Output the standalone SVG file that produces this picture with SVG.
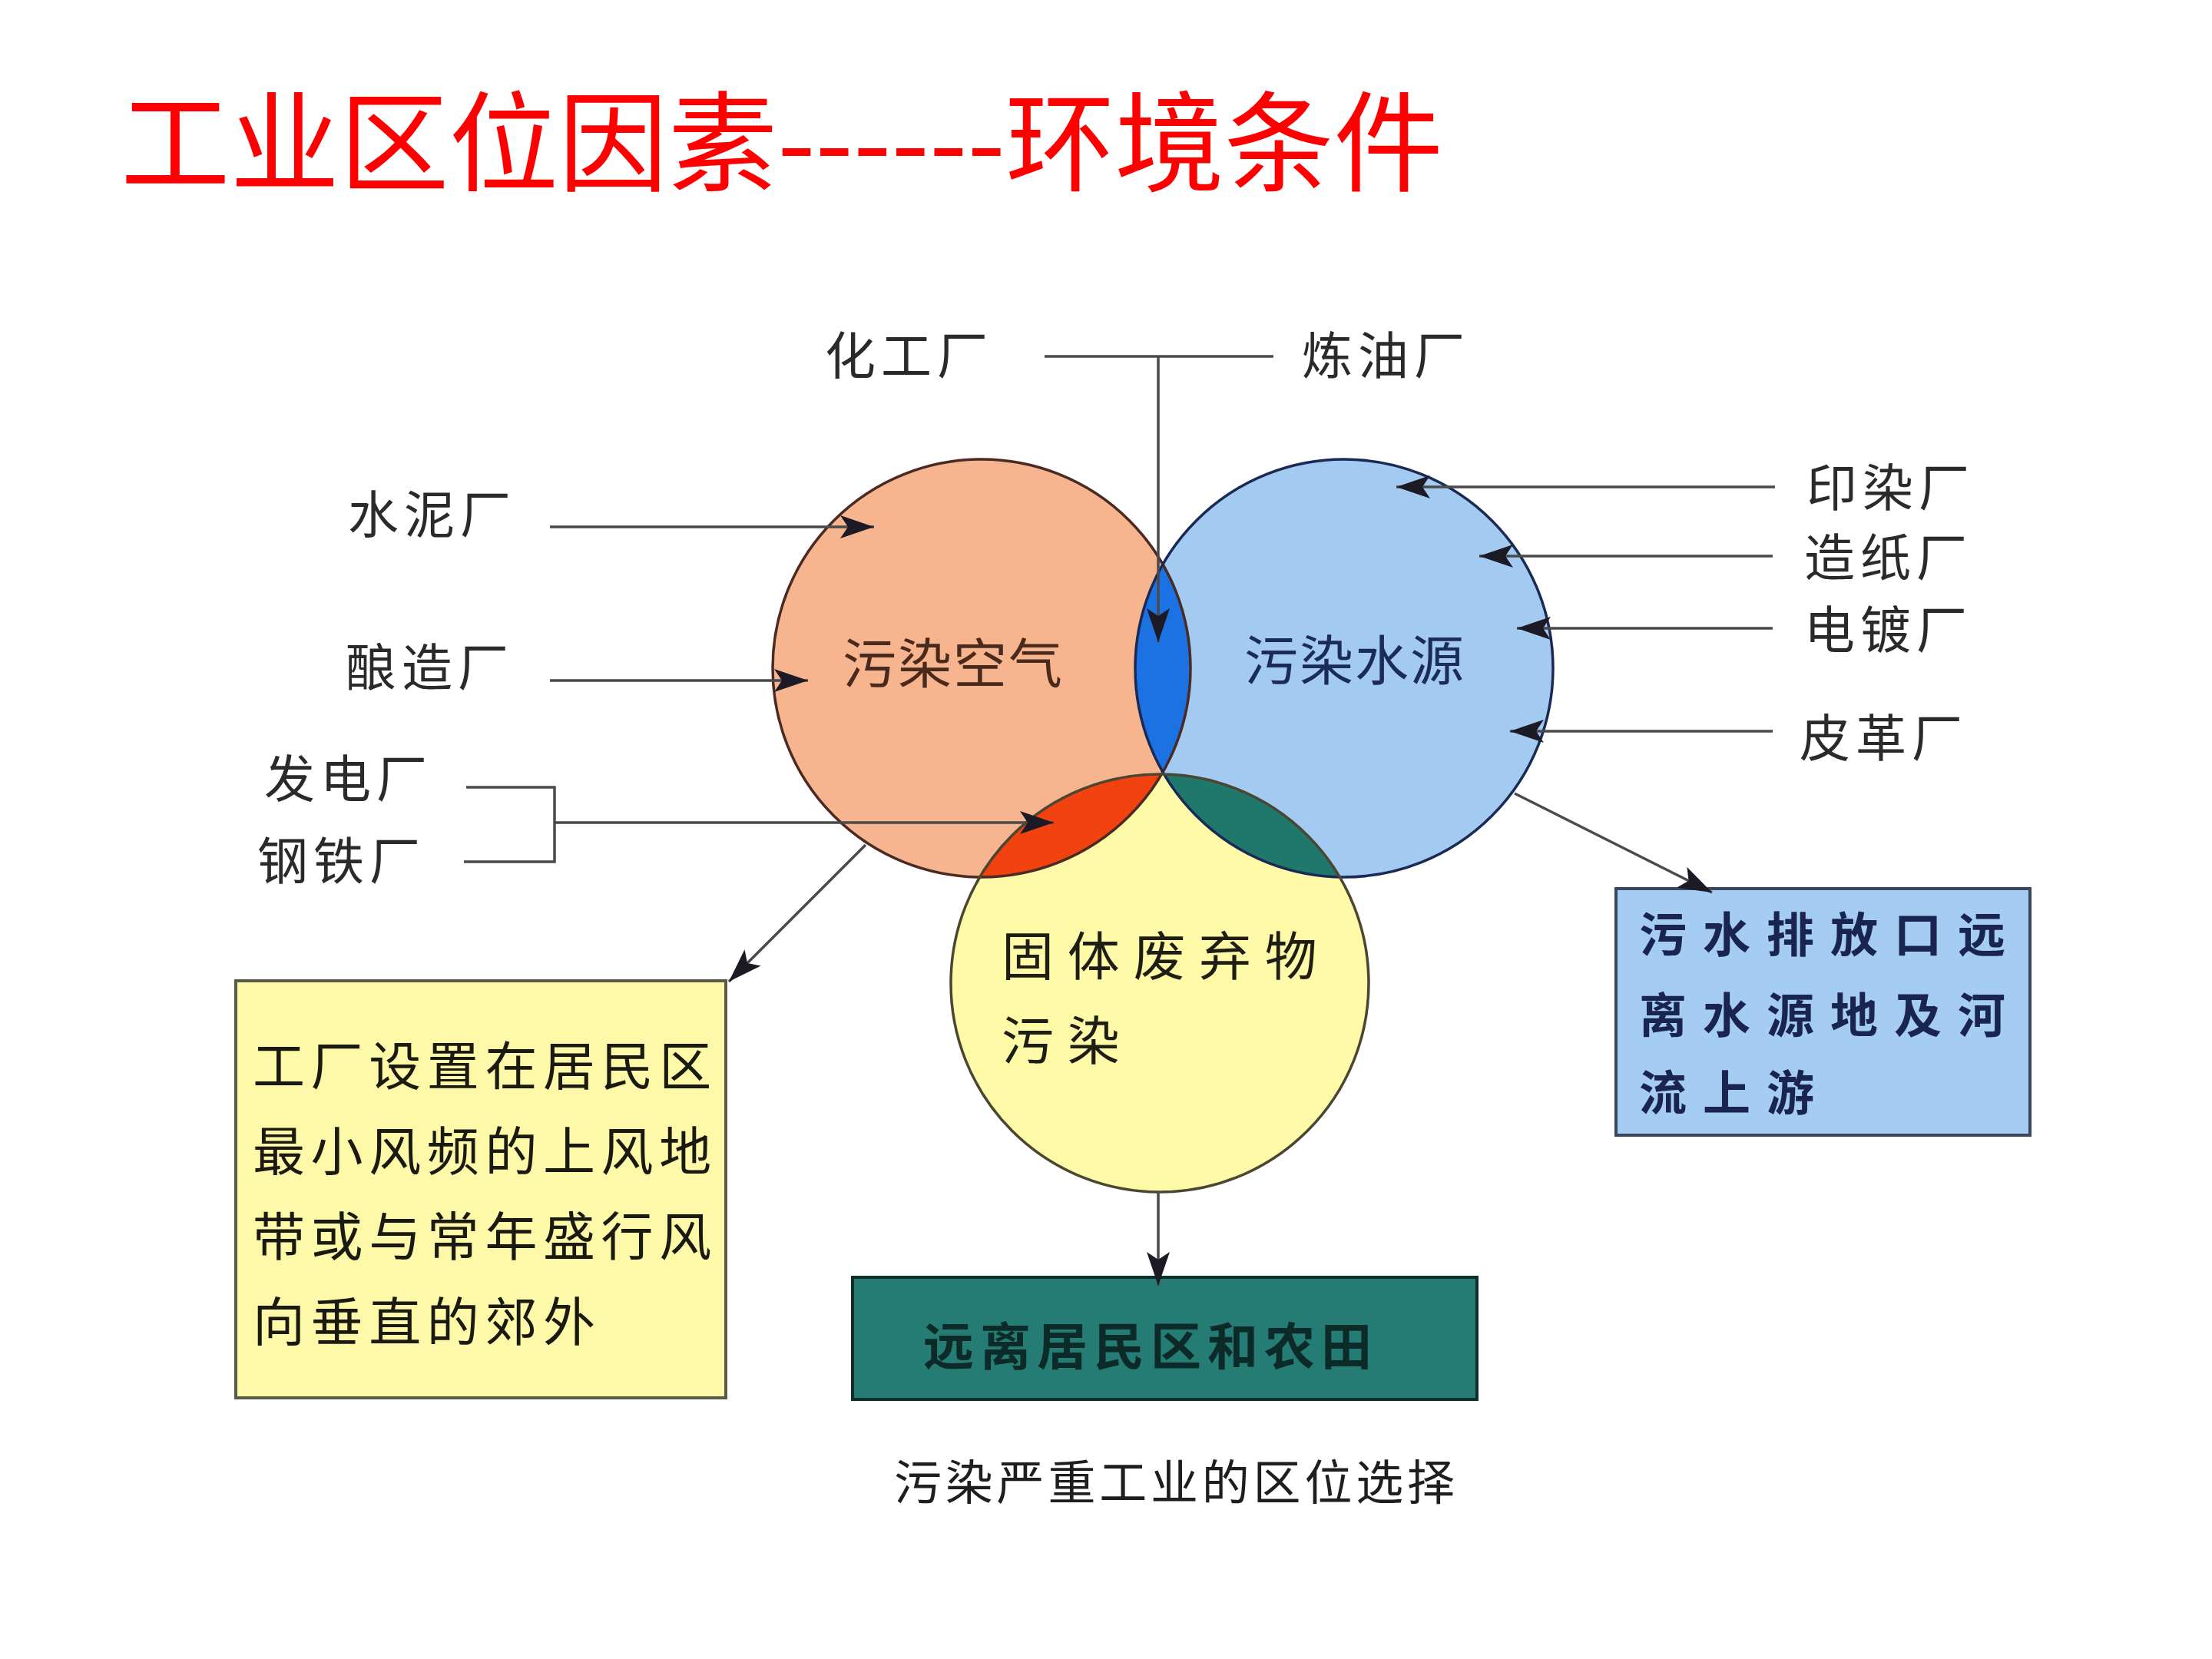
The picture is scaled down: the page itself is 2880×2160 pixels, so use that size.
<svg xmlns="http://www.w3.org/2000/svg" width="2880" height="2160" viewBox="0 0 2880 2160">
<style>
text{font-family:"Noto Sans CJK SC","Noto Sans CJK JP",sans-serif}
.title{font-size:142px;fill:#ff0000}
.lbl{font-size:66px;fill:#2a2a2a;letter-spacing:7px}
.circ{font-size:70px;letter-spacing:2px}
.conn{fill:none;stroke:#4a4a4a;stroke-width:3.5}
.box{stroke-width:4}
.ytxt{font-size:68px;letter-spacing:7.6px;fill:#1a1a10}
.btxt{font-size:62px;letter-spacing:21px;font-weight:bold;fill:#1a2450}
</style>
<defs>
<marker id="arr" markerUnits="userSpaceOnUse" markerWidth="46" markerHeight="32" refX="44" refY="15" orient="auto" viewBox="0 0 46 32">
<path d="M0,0 L44,15 L0,30 L10,15 z" fill="#1c1a24"/>
</marker>
<clipPath id="clipO"><circle cx="1278" cy="870" r="272"/></clipPath>
<clipPath id="clipB"><circle cx="1750" cy="870" r="272"/></clipPath>
</defs>
<rect width="2880" height="2160" fill="#ffffff"/>
<text class="title" x="157" y="238" textLength="1722" lengthAdjust="spacingAndGlyphs">工业区位因素------环境条件</text>

<g id="venn-fills">
<circle id="air" cx="1278" cy="870" r="272" fill="#f6b58e"/>
<circle id="water" cx="1750" cy="870" r="272" fill="#a3cbf2"/>
<circle id="solid" cx="1510" cy="1280" r="272" fill="#fffaa8"/>
</g>
<g id="overlaps">
<circle cx="1750" cy="870" r="272" fill="#1c72e2" clip-path="url(#clipO)"/>
<circle cx="1510" cy="1280" r="272" fill="#f2420f" clip-path="url(#clipO)"/>
<circle cx="1510" cy="1280" r="272" fill="#20776b" clip-path="url(#clipB)"/>
</g>
<g id="venn-outlines" fill="none" stroke-width="3.5">
<circle cx="1278" cy="870" r="272" stroke="#4a2a22"/>
<circle cx="1750" cy="870" r="272" stroke="#1b2a55"/>
<circle cx="1510" cy="1280" r="272" stroke="#4a4632"/>
</g>
<g id="node-air"><text class="circ" x="1097" y="890" fill="#4a2a1c">污染空气</text></g>
<g id="node-water"><text class="circ" x="1620" y="886" fill="#1b2b5b">污染水源</text></g>
<g id="node-solid">
<text x="1304" y="1270" font-size="68" letter-spacing="17.7" fill="#1e1e14">固体废弃物</text>
<text x="1304" y="1380" font-size="68" letter-spacing="17.7" fill="#1e1e14">污染</text>
</g>

<g id="labels">
<text id="n-huagong" class="lbl" x="1074" y="487">化工厂</text>
<text id="n-lianyou" class="lbl" x="1695" y="487">炼油厂</text>
<text id="n-shuini" class="lbl" x="453" y="694">水泥厂</text>
<text id="n-niangzao" class="lbl" x="450" y="893">酿造厂</text>
<text id="n-fadian" class="lbl" x="344" y="1038">发电厂</text>
<text id="n-gangtie" class="lbl" x="335" y="1145">钢铁厂</text>
<text id="n-yinran" class="lbl" x="2352" y="659">印染厂</text>
<text id="n-zaozhi" class="lbl" x="2349" y="750">造纸厂</text>
<text id="n-diandu" class="lbl" x="2349" y="844">电镀厂</text>
<text id="n-pige" class="lbl" x="2343" y="985">皮革厂</text>
</g>

<g id="node-yellowbox">
<rect class="box" x="307" y="1277" width="638" height="543" fill="#fdf9a9" stroke="#5a5a48"/>
<text class="ytxt" x="329" y="1413">工厂设置在居民区</text>
<text class="ytxt" x="329" y="1524">最小风频的上风地</text>
<text class="ytxt" x="329" y="1635">带或与常年盛行风</text>
<text class="ytxt" x="329" y="1746">向垂直的郊外</text>
</g>
<g id="node-bluebox">
<rect class="box" x="2104" y="1157" width="539" height="321" fill="#a5ccf2" stroke="#3a4660"/>
<text class="btxt" x="2134" y="1240">污水排放口远</text>
<text class="btxt" x="2134" y="1345">离水源地及河</text>
<text class="btxt" x="2134" y="1446">流上游</text>
</g>
<g id="node-tealbox">
<rect class="box" x="1110" y="1663" width="813" height="159" fill="#257c74" stroke="#0f2e2c"/>
<text x="1202" y="1777" font-size="66" letter-spacing="8" font-weight="bold" fill="#0c2a28">远离居民区和农田</text>
</g>
<g id="caption"><text x="1164" y="1953" font-size="62" letter-spacing="4.8" fill="#1e1e1e">污染严重工业的区位选择</text></g>

<g id="connectors">
<path class="conn" d="M1360,464 H1658"/>
<path class="conn" d="M1508,464 V836" marker-end="url(#arr)"/>
<path class="conn" d="M716,686 H1138" marker-end="url(#arr)"/>
<path class="conn" d="M716,886 H1052" marker-end="url(#arr)"/>
<path class="conn" d="M607,1025 H722 V1122 H604"/>
<path class="conn" d="M722,1071 H1372" marker-end="url(#arr)"/>
<path class="conn" d="M1127,1100 L949,1278" marker-end="url(#arr)"/>
<path class="conn" d="M2311,634 H1818" marker-end="url(#arr)"/>
<path class="conn" d="M2308,724 H1926" marker-end="url(#arr)"/>
<path class="conn" d="M2308,818 H1975" marker-end="url(#arr)"/>
<path class="conn" d="M2308,952 H1966" marker-end="url(#arr)"/>
<path class="conn" d="M1972,1033 L2229,1162" marker-end="url(#arr)"/>
<path class="conn" d="M1508,1552 V1674" marker-end="url(#arr)"/>
</g>
</svg>
